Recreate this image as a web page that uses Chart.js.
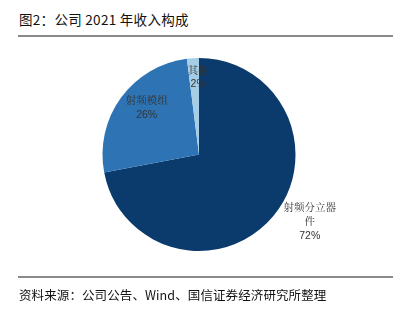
<!DOCTYPE html>
<html><head><meta charset="utf-8">
<script src="https://cdn.jsdelivr.net/npm/chart.js@4.4.0/dist/chart.umd.min.js"></script>
<style>
html,body{margin:0;padding:0;background:#fff;width:412px;height:318px;overflow:hidden;font-family:"Noto Sans CJK SC","Noto Sans",sans-serif;}
#title{position:absolute;left:19px;top:9px;font-size:13.5px;color:#111;letter-spacing:0.3px;}
#rule1{position:absolute;left:18px;top:35px;width:375px;height:2px;background:#8a8a8a;}
#rule2{position:absolute;left:18px;top:276px;width:375px;height:1.5px;background:#8a8a8a;}
#src{position:absolute;left:19px;top:285px;font-size:12.5px;color:#111;letter-spacing:0.1px;}
#wrap{position:absolute;left:0;top:0;width:412px;height:318px;}
</style></head>
<body>
<div id="title">图2：公司 2021 年收入构成</div>
<div id="rule1"></div>
<div id="wrap"><canvas id="c"></canvas></div>
<div id="rule2"></div>
<div id="src">资料来源：公司公告、Wind、国信证券经济研究所整理</div>
<script>
const categories = ["射频分立器件", "射频模组", "其他"];
const values = [72, 26, 2];
const colors = ["#0b3a6c", "#2e74b5", "#a6cde6"];
// label placement: radius factor and angle shift (deg) relative to slice middle
const labelRadius = [1.34, 0.73, 0.80];
const labelShift = [-8.5, 6, 3];
const labelLines = [["射频分立器", "件"], ["射频模组"], ["其他"]];

const labelPlugin = {
  id: 'pieLabels',
  afterDatasetsDraw(chart) {
    const ctx = chart.ctx;
    const meta = chart.getDatasetMeta(0);
    meta.data.forEach((arc, i) => {
      const p = arc.getProps(['x','y','startAngle','endAngle','outerRadius'], true);
      const mid = (p.startAngle + p.endAngle) / 2 + labelShift[i] * Math.PI / 180;
      const r = p.outerRadius * labelRadius[i];
      const cx = p.x + Math.cos(mid) * r;
      const cy = p.y + Math.sin(mid) * r;
      const lines = labelLines[i].concat([values[i] + "%"]);
      const lh = 14.5;
      const y0 = cy - (lines.length - 1) * lh / 2;
      ctx.save();
      ctx.textAlign = 'center';
      ctx.textBaseline = 'middle';
      ctx.fillStyle = '#333';
      lines.forEach((t, k) => {
        const isPct = k === lines.length - 1;
        ctx.font = isPct ? '10.5px "Liberation Sans", sans-serif' : '10.5px "Noto Serif CJK SC","Noto Sans CJK SC", serif';
        ctx.fillText(t, cx, y0 + k * lh);
      });
      ctx.restore();
    });
  }
};

new Chart(document.getElementById('c'), {
  type: 'pie',
  data: {
    labels: categories,
    datasets: [{ data: values, backgroundColor: colors, borderWidth: 0, hoverOffset: 0, offset: 0 }]
  },
  options: {
    responsive: true,
    maintainAspectRatio: false,
    animation: false,
    layout: { padding: { top: 58, bottom: 67, left: 102, right: 116 } },
    plugins: { legend: { display: false }, tooltip: { enabled: false } },
    events: []
  },
  plugins: [labelPlugin]
});
</script>
</body></html>
